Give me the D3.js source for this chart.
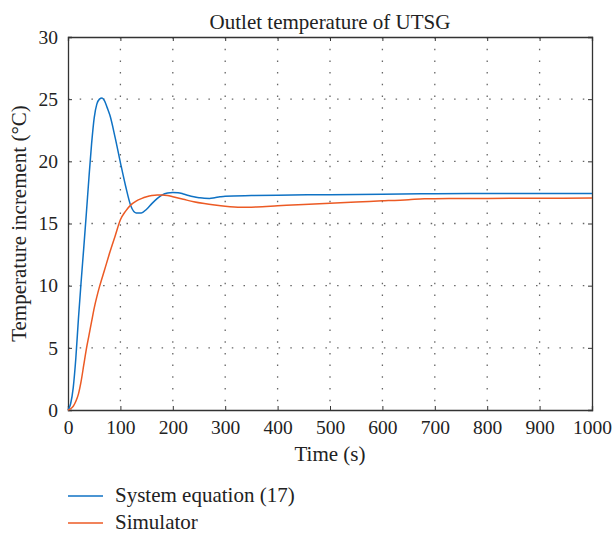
<!DOCTYPE html>
<html>
<head>
<meta charset="utf-8">
<script src="https://cdn.jsdelivr.net/npm/d3@7"></script>
<style>
  body { margin: 0; background: #fff; }
  svg { display: block; font-family: "Liberation Serif", "DejaVu Serif", serif; }
</style>
</head>
<body>
<svg id="chart" width="613" height="534"></svg>
<script>
// ---- data ----
const title = "Outlet temperature of UTSG";
const xLabel = "Time (s)";
const yLabel = "Temperature increment (°C)";
const xTicks = [0, 100, 200, 300, 400, 500, 600, 700, 800, 900, 1000];
const yTicks = [0, 5, 10, 15, 20, 25, 30];
const seriesNames = ["System equation (17)", "Simulator"];
const seriesColors = ["#0f72c4", "#ec5a24"];

const sysTime = [0,5,10,15,20,25,30,35,40,45,50,55,60,65,70,75,80,90,100,110,120,130,140,150,160,170,180,190,200,210,220,230,240,250,260,270,280,290,300,350,400,500,600,700,800,900,1000];
const sysValue = [0,0.5,1.8,4.2,7.4,10.3,13.0,15.8,18.7,21.4,23.5,24.6,25.0,25.1,24.85,24.3,23.7,21.9,19.9,18.0,16.4,15.85,15.85,16.15,16.6,17.0,17.3,17.45,17.5,17.48,17.38,17.25,17.15,17.08,17.03,17.02,17.08,17.15,17.2,17.25,17.28,17.32,17.36,17.4,17.42,17.42,17.42];

const simTime = [0,5,10,15,20,25,30,35,40,45,50,55,60,70,80,90,100,110,120,130,140,150,160,170,180,190,200,220,240,260,280,300,330,360,400,450,500,550,600,650,680,700,800,900,1000];
const simValue = [0,0.1,0.3,0.7,1.3,2.3,3.6,4.9,6.0,7.1,8.2,9.1,9.9,11.3,12.7,14.0,15.3,16.0,16.5,16.8,17.0,17.15,17.25,17.3,17.3,17.25,17.15,16.95,16.75,16.6,16.48,16.38,16.3,16.33,16.42,16.53,16.63,16.73,16.82,16.92,17.0,17.0,17.02,17.03,17.05];

// ---- layout ----
const W = 613, H = 534;
const m = {left: 68, right: 21, top: 37, bottom: 124};
const iw = W - m.left - m.right, ih = H - m.top - m.bottom;
const svg = d3.select("#chart");
const g = svg.append("g").attr("transform", `translate(${m.left},${m.top})`);

const x = d3.scaleLinear().domain([0, 1000]).range([0, iw]);
const y = d3.scaleLinear().domain([0, 30]).range([ih, 0]);

// grid
g.append("g").selectAll("line").data(xTicks.slice(1, -1)).join("line")
  .attr("x1", d => x(d)).attr("x2", d => x(d)).attr("y1", 0).attr("y2", ih)
  .attr("stroke", "#666").attr("stroke-width", 1.3).attr("stroke-dasharray", "1.5,10.2");
g.append("g").selectAll("line").data(yTicks.slice(1, -1)).join("line")
  .attr("y1", d => y(d)).attr("y2", d => y(d)).attr("x1", 0).attr("x2", iw)
  .attr("stroke", "#666").attr("stroke-width", 1.3).attr("stroke-dasharray", "1.5,10.2");

// axes
const fs = "19.5px";
const ax = g.append("g").attr("transform", `translate(0,${ih})`)
  .call(d3.axisBottom(x).tickValues(xTicks).tickSize(-4).tickPadding(10).tickFormat(d3.format("d")));
const ay = g.append("g")
  .call(d3.axisLeft(y).tickValues(yTicks).tickSize(-4).tickPadding(10).tickFormat(d3.format("d")));
const axT = g.append("g")
  .call(d3.axisTop(x).tickValues(xTicks).tickSize(-4).tickFormat(""));
const ayR = g.append("g").attr("transform", `translate(${iw},0)`)
  .call(d3.axisRight(y).tickValues(yTicks).tickSize(-4).tickFormat(""));
[ax, ay, axT, ayR].forEach(a => {
  a.select(".domain").attr("stroke", "#333").attr("stroke-width", 1.3);
  a.selectAll(".tick line").attr("stroke", "#333");
  a.selectAll(".tick text").attr("fill", "#222").style("font-size", fs)
    .style("font-family", '"Liberation Serif", "DejaVu Serif", serif');
});

// lines
const line = d3.line().x(d => x(d[0])).y(d => y(d[1])).curve(d3.curveMonotoneX);
const sysData = d3.zip(sysTime, sysValue);
const simData = d3.zip(simTime, simValue);
g.append("path").datum(sysData).attr("d", line).attr("fill", "none")
  .attr("stroke", seriesColors[0]).attr("stroke-width", 1.5);
g.append("path").datum(simData).attr("d", line).attr("fill", "none")
  .attr("stroke", seriesColors[1]).attr("stroke-width", 1.5);

// title & labels
svg.append("text").attr("x", m.left + iw / 2).attr("y", 29).attr("text-anchor", "middle")
  .style("font-size", "21px").attr("fill", "#222").text(title);
svg.append("text").attr("x", m.left + iw / 2).attr("y", 461).attr("text-anchor", "middle")
  .style("font-size", "21px").attr("fill", "#222").text(xLabel);
svg.append("text").attr("transform", `translate(26,${m.top + ih / 2}) rotate(-90)`)
  .attr("text-anchor", "middle").style("font-size", "21px").attr("fill", "#222").text(yLabel);

// legend
const leg = svg.append("g");
seriesNames.forEach((name, i) => {
  const yy = 496 + i * 27;
  leg.append("line").attr("x1", 68).attr("x2", 103).attr("y1", yy).attr("y2", yy)
    .attr("stroke", seriesColors[i]).attr("stroke-width", 1.5);
  leg.append("text").attr("x", 115).attr("y", yy + 6).style("font-size", "21px")
    .attr("fill", "#222").text(name);
});
</script>
</body>
</html>
